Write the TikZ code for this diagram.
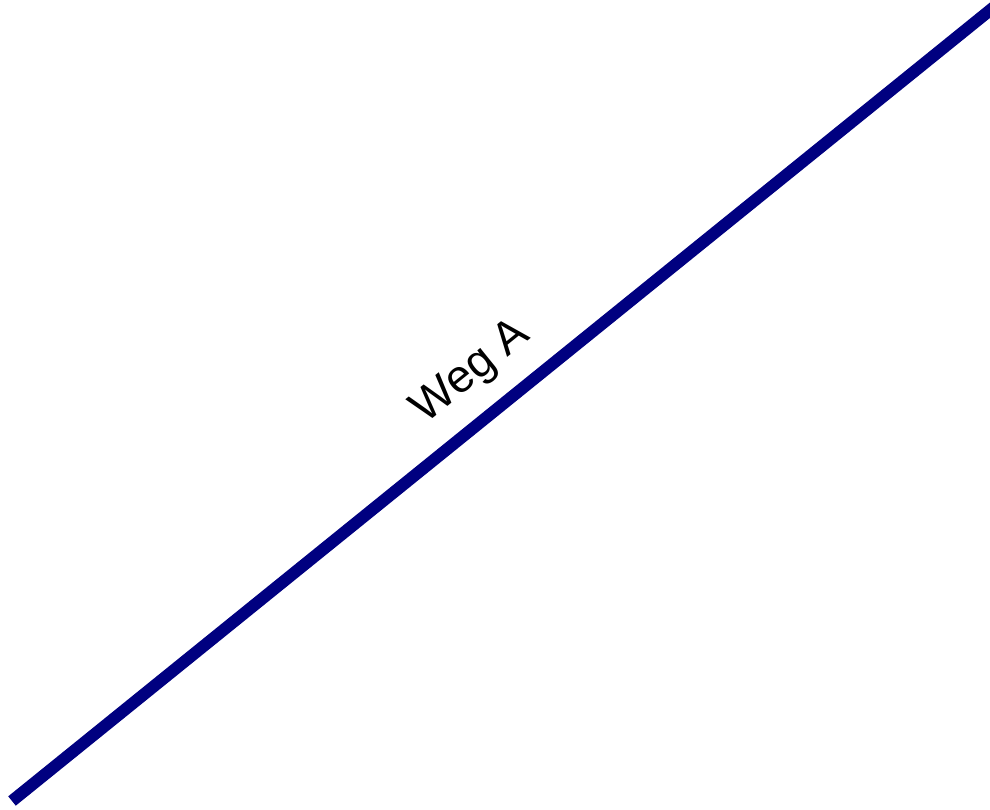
\documentclass[tikz,border=0pt]{standalone}
\usepackage{fontspec}
\setmainfont{Liberation Sans}
\definecolor{wegblue}{RGB}{0,0,128}

\begin{document}
\begin{tikzpicture}[
  x=1pt, y=1pt,
  weg/.style={line width=12pt, color=wegblue},
  label/.style={font=\fontsize{46}{55}\selectfont, text=black}
]
  \useasboundingbox (0,0) rectangle (990,810);
  \coordinate (start) at (12,9);
  \coordinate (end)   at (994,803);
  \draw[weg] (start) -- node[label, midway, sloped, above, xshift=-5pt, yshift=14pt] {Weg A} (end);
\end{tikzpicture}
\end{document}
